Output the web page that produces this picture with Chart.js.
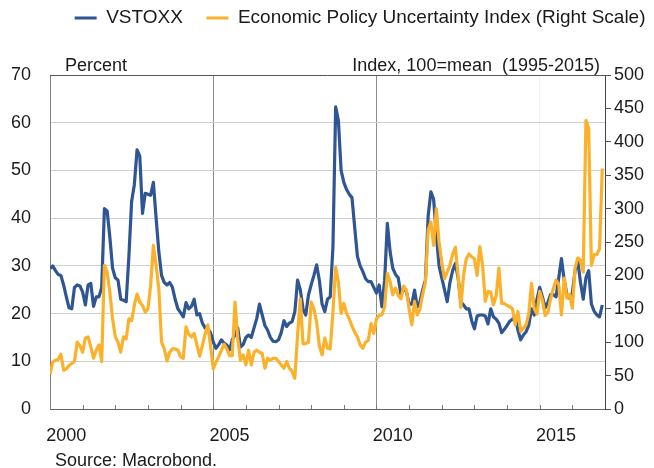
<!DOCTYPE html>
<html>
<head>
<meta charset="utf-8">
<script src="https://cdn.jsdelivr.net/npm/chart.js@4/dist/chart.umd.min.js"></script>
<style>
  html, body { margin: 0; padding: 0; background: #fff; }
  #wrap { width: 654px; height: 468px; }
</style>
</head>
<body>
<div id="wrap"><canvas id="myChart" width="654" height="468"></canvas></div>
<script>
// monthly data, Jan 2000 .. Dec 2016
const startYear = 2000;
const yearLabels = ['2000', '2005', '2010', '2015'];

const vstoxx = [
    29.4, 30, 29, 28.2, 28, 26, 23.5, 21.2, 21, 25.5, 26, 25.8,          // 2000
    24.5, 21.8, 26, 26.3, 21.5, 23.5, 23.5, 25.5, 42, 41.5, 36, 29.5,    // 2001
    27.5, 27, 23, 22.8, 22.5, 32, 43.5, 47, 54.3, 53, 41, 45.2,          // 2002
    45, 44.8, 47.5, 40, 33, 28, 26.5, 26, 26.5, 25.5, 23, 21,            // 2003
    20.2, 19.3, 22.3, 21, 21.5, 23, 19.7, 20, 18, 17, 16.8, 16,          // 2004
    14, 12.7, 13.5, 14.5, 13.8, 13.4, 12.4, 14.5, 15.5, 17, 13, 13.5,    // 2005
    15, 15.5, 15, 17, 19, 22, 19.7, 17.5, 16.5, 15, 14.2, 14.1,          // 2006
    14.5, 16, 18.5, 17.3, 18, 18.3, 20.4, 27, 25, 21, 19.7, 23.9,        // 2007
    26, 28, 30.2, 27, 22, 20.4, 23, 23.5, 34, 63.3, 60.5, 50,            // 2008
    47.5, 46, 45, 44.3, 38, 32, 30, 28.8, 27.3, 26.7, 26.7, 25.5,        // 2009
    24.3, 26, 21.4, 27, 38.9, 33, 29.5, 28.2, 27.5, 23.9, 25.3, 24.6,    // 2010
    22, 22, 24.9, 21.4, 22.5, 25, 27, 40.5, 45.5, 44, 36.5, 30,          // 2011
    27.5, 25, 22.5, 26.5, 29, 30.5, 27.5, 22.5, 21.8, 21, 21, 18.5,      // 2012
    16.8, 19.5, 19.7, 19.7, 19.5, 17.8, 21, 19.3, 18.8, 18, 16, 16.7,    // 2013
    17.5, 18.4, 18.8, 19.3, 16.5, 14.5, 15.5, 16.2, 17.6, 21, 19.7, 23,  // 2014
    25.5, 23.5, 21.2, 22.3, 24, 24, 23.5, 27.5, 31.5, 27, 24, 23.2,      // 2015
    24.3, 29, 31, 26.5, 23, 27.5, 29, 22, 20.5, 19.7, 19.3, 21.8         // 2016
];

const epu = [
    52, 70, 73, 74, 82, 58, 60, 65, 68, 71, 100, 95,            // 2000
    85, 106, 108, 93, 76, 88, 96, 71, 215, 205, 175, 135,       // 2001
    108, 100, 85, 108, 105, 135, 132, 155, 172, 160, 155, 145,  // 2002
    150, 185, 245, 215, 180, 100, 90, 72, 85, 90, 90, 88,       // 2003
    78, 76, 123, 112, 108, 113, 96, 79, 95, 112, 126, 95,       // 2004
    60, 70, 78, 88, 97, 90, 80, 80, 160, 106, 73, 81,           // 2005
    66, 88, 66, 85, 88, 85, 83, 61, 76, 73, 76, 76,             // 2006
    71, 66, 61, 71, 61, 56, 46, 111, 165, 98, 98, 100,          // 2007
    160, 150, 130, 95, 81, 106, 91, 90, 145, 212, 190, 143,     // 2008
    158, 143, 135, 124, 115, 108, 96, 91, 100, 103, 128, 113,   // 2009
    135, 140, 141, 153, 203, 191, 171, 181, 170, 165, 184, 178, // 2010
    150, 126, 161, 141, 150, 172, 190, 268, 280, 245, 300, 250, // 2011
    220, 195, 205, 215, 232, 242, 200, 152, 200, 225, 232, 228, // 2012
    225, 200, 243, 215, 161, 176, 175, 156, 170, 211, 158, 158, // 2013
    155, 153, 150, 126, 146, 116, 121, 126, 143, 188, 150, 142, // 2014
    176, 163, 140, 145, 165, 180, 193, 186, 141, 196, 166, 171, // 2015
    151, 211, 226, 223, 205, 432, 420, 215, 231, 231, 240, 360  // 2016
];

const blue = '#2f5593';
const orange = '#fcb12b';
const textColor = '#1a1a1a';

Chart.defaults.font.family = '"Liberation Sans", Arial, sans-serif';
Chart.defaults.color = textColor;

const asPoints = (arr) => arr.map((v, i) => ({ x: i, y: v }));

// top border, inner year ticks, unit captions and source line
const frame = {
    id: 'frame',
    afterLayout(chart) {
        const lg = chart.legend;
        lg.left += 15; lg.right += 15;
        lg.top -= 37.5; lg.bottom -= 37.5;
    },
    afterDraw(chart) {
        const { ctx, chartArea: a, scales } = chart;
        ctx.save();
        ctx.lineWidth = 1;
        ctx.strokeStyle = '#555';
        ctx.beginPath();
        ctx.moveTo(a.left, a.top + 0.5);
        ctx.lineTo(a.right, a.top + 0.5);
        ctx.stroke();

        ctx.strokeStyle = '#777';
        ctx.beginPath();
        for (let v = 12; v < 204; v += 12) {
            const px = Math.round(scales.x.getPixelForValue(v)) + 0.5;
            ctx.moveTo(px, a.bottom);
            ctx.lineTo(px, a.bottom - 4);
        }
        ctx.stroke();

        ctx.fillStyle = textColor;
        ctx.font = '18px "Liberation Sans", Arial, sans-serif';
        ctx.textBaseline = 'middle';
        ctx.textAlign = 'left';
        ctx.fillText('Percent', a.left + 15, a.top - 9);
        ctx.textAlign = 'right';
        ctx.fillText('Index, 100=mean  (1995-2015)', a.right - 5, a.top - 9);
        ctx.textAlign = 'left';
        ctx.fillText('Source: Macrobond.', 55, chart.height - 7);
        ctx.restore();
    }
};

const ctx = document.getElementById('myChart').getContext('2d');

const data = {
    datasets: [{
        label: 'VSTOXX',
        data: asPoints(vstoxx),
        yAxisID: 'y',
        borderColor: blue,
        backgroundColor: blue,
        borderWidth: 3.2,
        pointRadius: 0,
        order: 1,
    }, {
        label: 'Economic Policy Uncertainty Index (Right Scale)',
        data: asPoints(epu),
        yAxisID: 'y2',
        borderColor: orange,
        backgroundColor: orange,
        borderWidth: 3.2,
        pointRadius: 0,
        order: 0,
    }],
};

const config = {
    type: 'line',
    data: data,
    options: {
        responsive: false,
        animation: false,
        events: [],
        layout: { padding: { top: 22.5, left: 0, right: 0, bottom: 19 } },
        elements: { line: { tension: 0, borderJoinStyle: 'round' } },
        plugins: {
            tooltip: { enabled: false },
            legend: {
                align: 'end',
                labels: {
                    usePointStyle: true,
                    pointStyle: 'line',
                    pointStyleWidth: 22,
                    padding: 23.5,
                    color: textColor,
                    font: { size: 19 },
                    sort: (a, b) => a.datasetIndex - b.datasetIndex,
                },
            },
        },
        scales: {
            x: {
                type: 'linear',
                min: 0,
                max: 204,
                afterFit: (s) => { s.height = 40; },
                ticks: {
                    stepSize: 6,
                    autoSkip: false,
                    maxRotation: 0,
                    padding: 16,
                    font: { size: 18 },
                    color: textColor,
                    callback: (v) => (v % 60 === 6 ? yearLabels[(v - 6) / 60] : ''),
                },
                grid: {
                    drawTicks: false,
                    lineWidth: 1,
                    color: (c) => {
                        const v = c.tick ? c.tick.value : -1;
                        if (v === 60 || v === 120) return '#8c8c8c';
                        if (v === 180) return '#f0f0f0';
                        return 'rgba(0,0,0,0)';
                    },
                },
                border: { color: '#666', width: 1 },
            },
            y: {
                position: 'left',
                min: 0,
                max: 70,
                afterFit: (s) => { s.width = 50; },
                ticks: { stepSize: 10, padding: 19, font: { size: 18 }, color: textColor },
                grid: { drawTicks: false, color: '#d2d2d2', lineWidth: 1 },
                border: { color: '#808080', width: 1 },
            },
            y2: {
                position: 'right',
                min: 0,
                max: 500,
                afterFit: (s) => { s.width = 49; },
                ticks: { stepSize: 50, padding: 3, font: { size: 18 }, color: textColor },
                grid: { drawOnChartArea: false, drawTicks: true, tickLength: 6, tickColor: '#555' },
                border: { color: '#444', width: 1 },
            },
        },
    },
    plugins: [frame],
};

const myChart = new Chart(ctx, config);
</script>
</body>
</html>
